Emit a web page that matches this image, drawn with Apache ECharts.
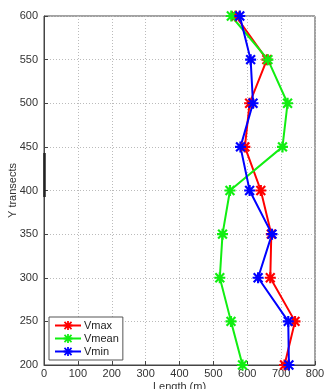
<!DOCTYPE html>
<html><head><meta charset="utf-8">
<script src="https://cdn.jsdelivr.net/npm/echarts@6/dist/echarts.min.js"></script>
<style>html,body{margin:0;padding:0;background:#fff}#c{width:325px;height:389px}</style>
</head><body><div id="c"></div>
<script>
const transects = [600, 550, 500, 450, 400, 350, 300, 250, 200];
const vmax  = [566, 658, 607, 593, 640, 671, 668, 741, 710];
const vmean = [553, 661, 719, 704, 549, 527, 519, 552, 586];
const vmin  = [578, 610, 617, 580, 607, 673, 632, 721, 723];
const seriesNames = ['Vmax', 'Vmean', 'Vmin'];
const seriesColors = ['#ff0000', '#11ee11', '#0000ff'];

const star = 'path://M0,4L10,4L10,6L0,6ZM4,0L6,0L6,10L4,10ZM0.3,1.7L1.7,0.3L9.7,8.3L8.3,9.7ZM8.3,0.3L9.7,1.7L1.7,9.7L0.3,8.3Z';
const font = 'Liberation Sans';
function mk(name, vals, color) {
  return {
    name, type: 'line', data: vals.map((v, i) => [v, transects[i]]),
    symbol: star, symbolSize: 11, showSymbol: true,
    lineStyle: { color, width: 2 }, itemStyle: { color },
    animation: false
  };
}
const chart = echarts.init(document.getElementById('c'));
chart.setOption({
  animation: false,
  grid: { left: 44, right: 10, top: 16, bottom: 24, show: true, borderColor: '#444', borderWidth: 1,
          containLabel: false, outerBoundsMode: 'none' },
  xAxis: {
    type: 'value', min: 0, max: 800, interval: 100,
    name: 'Length (m)', nameLocation: 'middle', nameGap: 16, nameMoveOverlap: false,
    nameTextStyle: { fontFamily: font, fontSize: 11, color: '#333' },
    axisLine: { show: true, onZero: false, lineStyle: { color: '#444' } },
    axisTick: { inside: true, length: 4, lineStyle: { color: '#444' } },
    axisLabel: { fontFamily: font, fontSize: 11, color: '#333', margin: 3 },
    splitLine: { show: true, lineStyle: { type: [1, 2], color: '#bbb' } }
  },
  yAxis: {
    type: 'value', min: 200, max: 600, interval: 50,
    name: 'Y transects', nameLocation: 'middle', nameGap: 26, nameRotate: 90, nameMoveOverlap: false,
    nameTextStyle: { fontFamily: font, fontSize: 11, color: '#333' },
    axisLine: { show: true, onZero: false, lineStyle: { color: '#444' } },
    axisTick: { inside: true, length: 4, lineStyle: { color: '#444' } },
    axisLabel: { fontFamily: font, fontSize: 11, color: '#333', margin: 6 },
    splitLine: { show: true, lineStyle: { type: [1, 2], color: '#bbb' } }
  },
  legend: {
    orient: 'vertical', left: 49, top: 317, data: seriesNames,
    backgroundColor: '#fff', borderColor: '#555', borderWidth: 1,
    padding: [3, 4, 3, 5], itemGap: 2, itemWidth: 26, itemHeight: 11,
    textStyle: { fontFamily: font, fontSize: 11, color: '#222', padding: [0, 0, 0, -2] }
  },
  graphic: [{
    type: 'line', shape: { x1: 44.5, y1: 153, x2: 44.5, y2: 197 },
    style: { stroke: '#222', lineWidth: 2.5 }, z: 100
  }],
  series: [mk(seriesNames[0], vmax, seriesColors[0]), mk(seriesNames[1], vmean, seriesColors[1]), mk(seriesNames[2], vmin, seriesColors[2])]
});
</script></body></html>
